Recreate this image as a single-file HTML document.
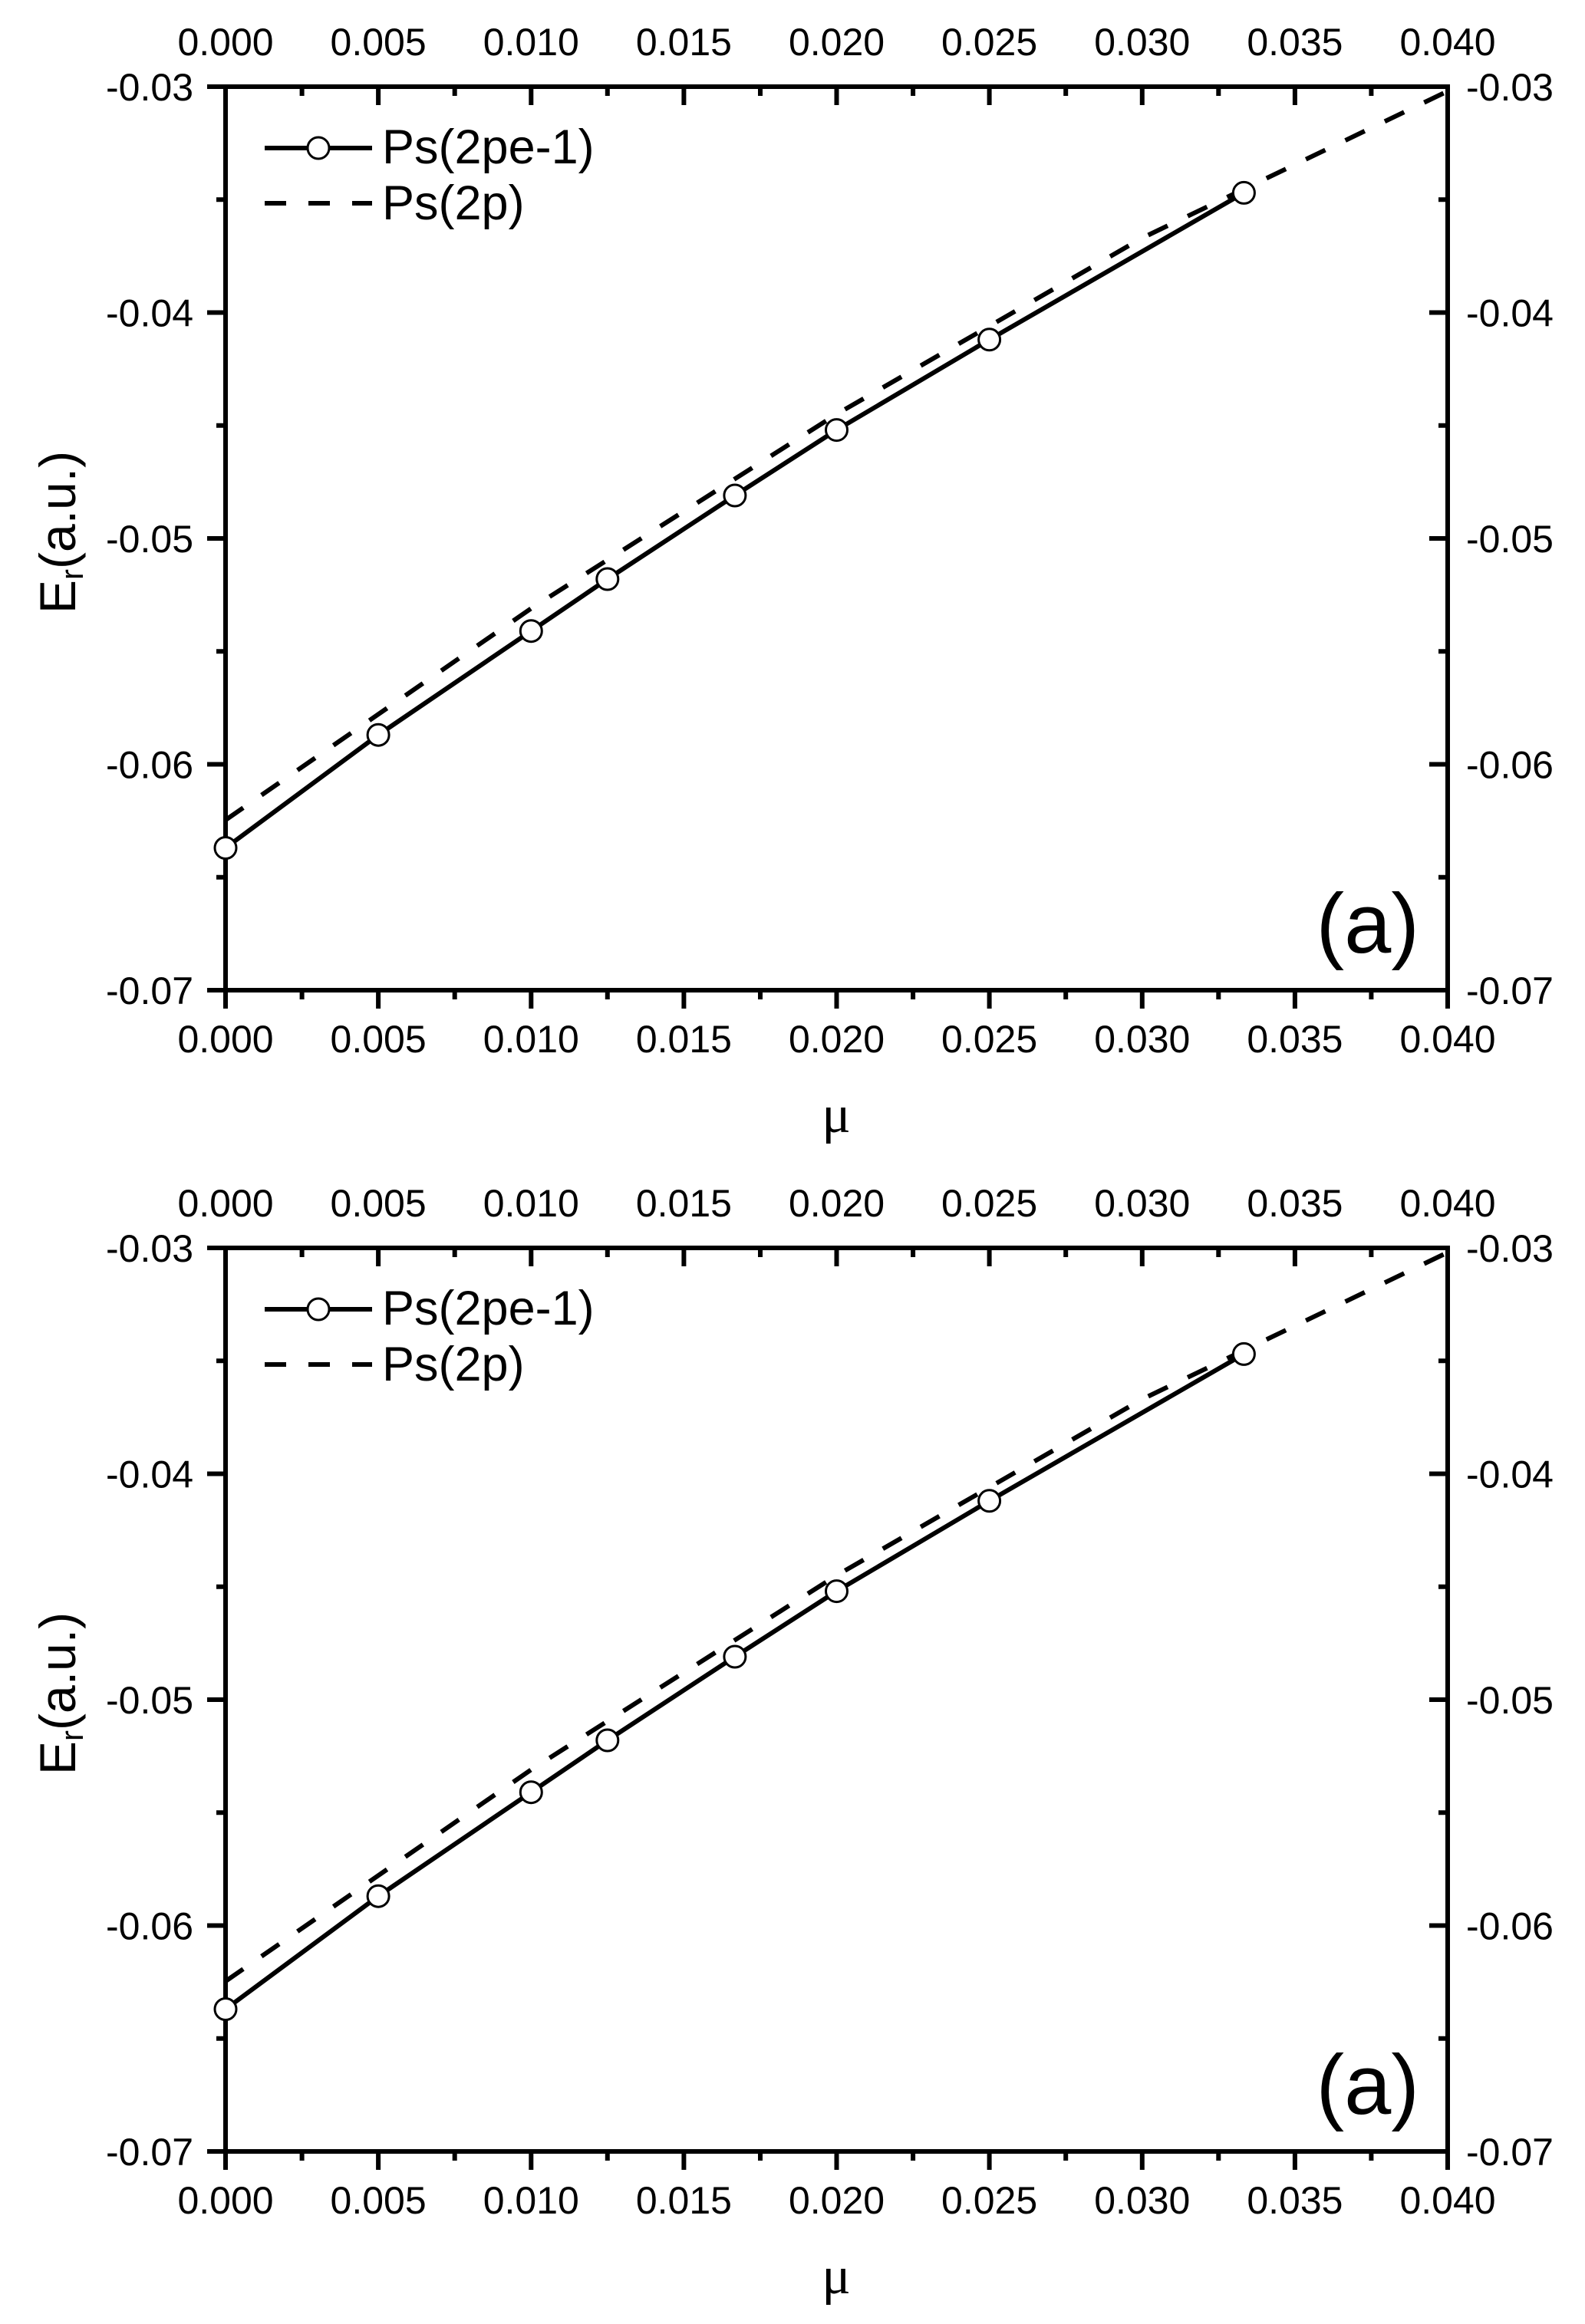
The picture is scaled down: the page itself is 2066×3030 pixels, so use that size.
<!DOCTYPE html>
<html><head><meta charset="utf-8"><style>
html,body{margin:0;padding:0;background:#fff}
svg{display:block}
text{font-family:"Liberation Sans",sans-serif;fill:#000}
</style></head><body>
<svg width="2066" height="3030" viewBox="0 0 2066 3030" xmlns="http://www.w3.org/2000/svg">
<g id="p1">
<rect x="294" y="113" width="1593" height="1178" fill="none" stroke="#000" stroke-width="6"/>
<g stroke="#000" stroke-width="6">
<path d="M294 1291v24M493.1 1291v24M692.3 1291v24M891.4 1291v24M1090.5 1291v24M1289.6 1291v24M1488.8 1291v24M1687.9 1291v24M1887 1291v24"/>
<path d="M393.6 1291v12M592.7 1291v12M791.8 1291v12M991 1291v12M1190.1 1291v12M1389.2 1291v12M1588.3 1291v12M1787.4 1291v12"/>
<path d="M493.1 113v24M692.3 113v24M891.4 113v24M1090.5 113v24M1289.6 113v24M1488.8 113v24M1687.9 113v24"/>
<path d="M393.6 113v12M592.7 113v12M791.8 113v12M991 113v12M1190.1 113v12M1389.2 113v12M1588.3 113v12M1787.4 113v12"/>
<path d="M270 113h24M270 407.5h24M270 702h24M270 996.5h24M270 1291h24"/>
<path d="M282 260.25h12M282 554.75h12M282 849.25h12M282 1143.75h12"/>
<path d="M1863 407.5h24M1863 702h24M1863 996.5h24"/>
<path d="M1875 260.25h12M1875 554.75h12M1875 849.25h12M1875 1143.75h12"/>
</g>
<g font-size="50" text-anchor="middle">
<text x="294" y="1372">0.000</text><text x="493.1" y="1372">0.005</text><text x="692.3" y="1372">0.010</text><text x="891.4" y="1372">0.015</text><text x="1090.5" y="1372">0.020</text><text x="1289.6" y="1372">0.025</text><text x="1488.8" y="1372">0.030</text><text x="1687.9" y="1372">0.035</text><text x="1887" y="1372">0.040</text>
<text x="294" y="72">0.000</text><text x="493.1" y="72">0.005</text><text x="692.3" y="72">0.010</text><text x="891.4" y="72">0.015</text><text x="1090.5" y="72">0.020</text><text x="1289.6" y="72">0.025</text><text x="1488.8" y="72">0.030</text><text x="1687.9" y="72">0.035</text><text x="1887" y="72">0.040</text>
</g>
<g font-size="50" text-anchor="end">
<text x="252" y="131">-0.03</text><text x="252" y="425.5">-0.04</text><text x="252" y="720">-0.05</text><text x="252" y="1014.5">-0.06</text><text x="252" y="1309">-0.07</text>
</g>
<g font-size="50">
<text x="1911" y="131">-0.03</text><text x="1911" y="425.5">-0.04</text><text x="1911" y="720">-0.05</text><text x="1911" y="1014.5">-0.06</text><text x="1911" y="1309">-0.07</text>
</g>
<text transform="translate(98,800) rotate(-90)" font-size="66">E<tspan font-size="42" dy="10">r</tspan><tspan dy="-10">(a.u.)</tspan></text>
<text x="1090" y="1476" font-size="70" text-anchor="middle" style="font-family:'Liberation Serif',serif">μ</text>
<text x="1850" y="1242" font-size="110" text-anchor="end">(a)</text>
<polyline points="294,1069.1 692.3,793.3 1090.5,540 1488.8,310.3 1887,118.9" fill="none" stroke="#000" stroke-width="6" stroke-dasharray="28,29"/>
<polyline points="294,1105.5 493.1,958.2 692.3,822.7 791.8,755 957.9,646 1090.5,560.6 1289.6,442.8 1621.4,251.4" fill="none" stroke="#000" stroke-width="6"/>
<g fill="#fff" stroke="#000" stroke-width="3">
<circle cx="294" cy="1105.5" r="14"/><circle cx="493.1" cy="958.2" r="14"/><circle cx="692.3" cy="822.7" r="14"/><circle cx="791.8" cy="755" r="14"/><circle cx="957.9" cy="646" r="14"/><circle cx="1090.5" cy="560.6" r="14"/><circle cx="1289.6" cy="442.8" r="14"/><circle cx="1621.4" cy="251.4" r="14"/>
</g>
<path d="M345 193h140" stroke="#000" stroke-width="6"/>
<circle cx="415" cy="193" r="14" fill="#fff" stroke="#000" stroke-width="3"/>
<path d="M345 265h140" stroke="#000" stroke-width="6" stroke-dasharray="28,29"/>
<text x="498" y="213" font-size="63">Ps(2pe-1)</text>
<text x="498" y="286" font-size="63">Ps(2p)</text>
</g>
<g transform="translate(0,1514)">
<rect x="294" y="113" width="1593" height="1178" fill="none" stroke="#000" stroke-width="6"/>
<g stroke="#000" stroke-width="6">
<path d="M294 1291v24M493.1 1291v24M692.3 1291v24M891.4 1291v24M1090.5 1291v24M1289.6 1291v24M1488.8 1291v24M1687.9 1291v24M1887 1291v24"/>
<path d="M393.6 1291v12M592.7 1291v12M791.8 1291v12M991 1291v12M1190.1 1291v12M1389.2 1291v12M1588.3 1291v12M1787.4 1291v12"/>
<path d="M493.1 113v24M692.3 113v24M891.4 113v24M1090.5 113v24M1289.6 113v24M1488.8 113v24M1687.9 113v24"/>
<path d="M393.6 113v12M592.7 113v12M791.8 113v12M991 113v12M1190.1 113v12M1389.2 113v12M1588.3 113v12M1787.4 113v12"/>
<path d="M270 113h24M270 407.5h24M270 702h24M270 996.5h24M270 1291h24"/>
<path d="M282 260.25h12M282 554.75h12M282 849.25h12M282 1143.75h12"/>
<path d="M1863 407.5h24M1863 702h24M1863 996.5h24"/>
<path d="M1875 260.25h12M1875 554.75h12M1875 849.25h12M1875 1143.75h12"/>
</g>
<g font-size="50" text-anchor="middle">
<text x="294" y="1372">0.000</text><text x="493.1" y="1372">0.005</text><text x="692.3" y="1372">0.010</text><text x="891.4" y="1372">0.015</text><text x="1090.5" y="1372">0.020</text><text x="1289.6" y="1372">0.025</text><text x="1488.8" y="1372">0.030</text><text x="1687.9" y="1372">0.035</text><text x="1887" y="1372">0.040</text>
<text x="294" y="72">0.000</text><text x="493.1" y="72">0.005</text><text x="692.3" y="72">0.010</text><text x="891.4" y="72">0.015</text><text x="1090.5" y="72">0.020</text><text x="1289.6" y="72">0.025</text><text x="1488.8" y="72">0.030</text><text x="1687.9" y="72">0.035</text><text x="1887" y="72">0.040</text>
</g>
<g font-size="50" text-anchor="end">
<text x="252" y="131">-0.03</text><text x="252" y="425.5">-0.04</text><text x="252" y="720">-0.05</text><text x="252" y="1014.5">-0.06</text><text x="252" y="1309">-0.07</text>
</g>
<g font-size="50">
<text x="1911" y="131">-0.03</text><text x="1911" y="425.5">-0.04</text><text x="1911" y="720">-0.05</text><text x="1911" y="1014.5">-0.06</text><text x="1911" y="1309">-0.07</text>
</g>
<text transform="translate(98,800) rotate(-90)" font-size="66">E<tspan font-size="42" dy="10">r</tspan><tspan dy="-10">(a.u.)</tspan></text>
<text x="1090" y="1476" font-size="70" text-anchor="middle" style="font-family:'Liberation Serif',serif">μ</text>
<text x="1850" y="1242" font-size="110" text-anchor="end">(a)</text>
<polyline points="294,1069.1 692.3,793.3 1090.5,540 1488.8,310.3 1887,118.9" fill="none" stroke="#000" stroke-width="6" stroke-dasharray="28,29"/>
<polyline points="294,1105.5 493.1,958.2 692.3,822.7 791.8,755 957.9,646 1090.5,560.6 1289.6,442.8 1621.4,251.4" fill="none" stroke="#000" stroke-width="6"/>
<g fill="#fff" stroke="#000" stroke-width="3">
<circle cx="294" cy="1105.5" r="14"/><circle cx="493.1" cy="958.2" r="14"/><circle cx="692.3" cy="822.7" r="14"/><circle cx="791.8" cy="755" r="14"/><circle cx="957.9" cy="646" r="14"/><circle cx="1090.5" cy="560.6" r="14"/><circle cx="1289.6" cy="442.8" r="14"/><circle cx="1621.4" cy="251.4" r="14"/>
</g>
<path d="M345 193h140" stroke="#000" stroke-width="6"/>
<circle cx="415" cy="193" r="14" fill="#fff" stroke="#000" stroke-width="3"/>
<path d="M345 265h140" stroke="#000" stroke-width="6" stroke-dasharray="28,29"/>
<text x="498" y="213" font-size="63">Ps(2pe-1)</text>
<text x="498" y="286" font-size="63">Ps(2p)</text>
</g>
</svg>
</body></html>
